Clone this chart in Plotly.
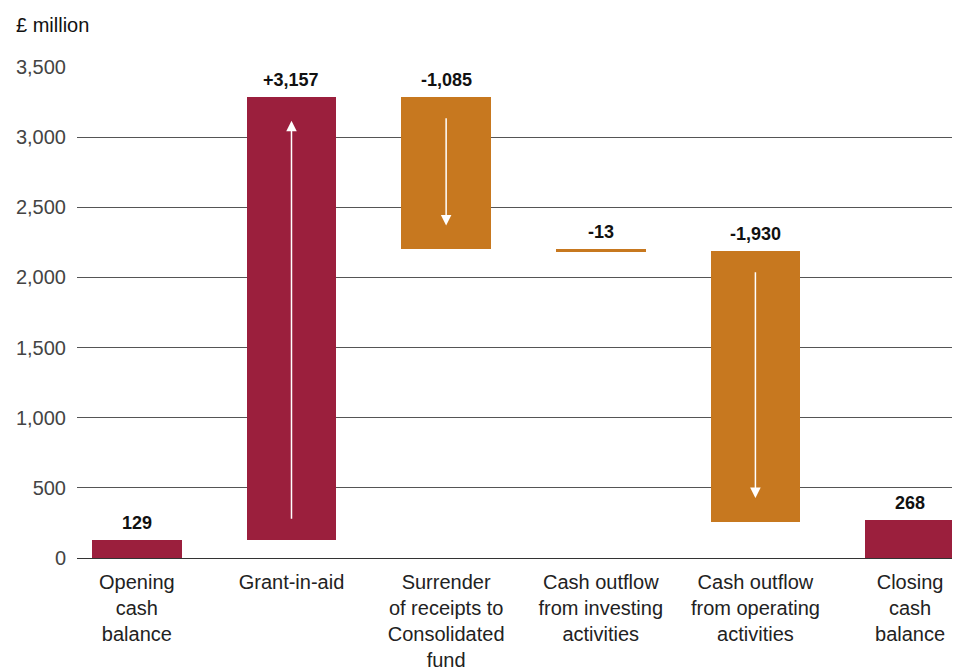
import plotly.graph_objects as go

categories = ["Opening<br>cash<br>balance", "Grant-in-aid", "Surrender<br>of receipts to<br>Consolidated<br>fund",
              "Cash outflow<br>from investing<br>activities", "Cash outflow<br>from operating<br>activities",
              "Closing<br>cash<br>balance"]
changes = [129, 3157, -1085, -13, -1930, 268]
kinds = ["total", "up", "down", "down", "down", "total"]
labels = ["129", "+3,157", "-1,085", "-13", "-1,930", "268"]
ytick_vals = [0, 500, 1000, 1500, 2000, 2500, 3000, 3500]
ytick_text = ["0", "500", "1,000", "1,500", "2,000", "2,500", "3,000", "3,500"]

MAROON = "#9B1F3D"
ORANGE = "#C7781F"

bases, lengths, colors = [], [], []
running = 0
for k, c in zip(kinds, changes):
    if k == "total":
        bases.append(0)
        lengths.append(c)
        running = c
        colors.append(MAROON)
    elif k == "up":
        bases.append(running)
        lengths.append(c)
        running += c
        colors.append(MAROON)
    else:
        bases.append(running + c)
        lengths.append(-c)
        running += c
        colors.append(ORANGE)

x = list(range(len(categories)))
fig = go.Figure()
fig.add_trace(go.Bar(x=x, y=lengths, base=bases, marker=dict(color=colors, line=dict(width=0)),
                     width=0.58, hoverinfo="skip"))

font = "Liberation Sans, Arial, sans-serif"
annotations = []
for i, (b, l, t) in enumerate(zip(bases, lengths, labels)):
    annotations.append(dict(x=i, y=b + l, text="<b>" + t + "</b>", showarrow=False, yanchor="bottom",
                            yshift=5, font=dict(size=18, color="#111", family=font)))

# arrows inside change bars
tail_off, head_off = 140, 170
running = 0
for i, (k, c) in enumerate(zip(kinds, changes)):
    if k == "total":
        running = c
        continue
    start, end = running, running + c
    running = end
    if abs(c) < 500:
        continue
    s = 1 if c > 0 else -1
    annotations.append(dict(x=i, y=end - s * head_off, ax=i, ay=start + s * tail_off,
                            xref="x", yref="y", axref="x", ayref="y", text="", showarrow=True,
                            arrowhead=2, arrowsize=1.4, arrowwidth=1.5, arrowcolor="white"))

annotations.append(dict(x=-63 / 885, y=1 + 55 / 491, xref="paper", yref="paper", xanchor="left",
                        yanchor="top", text="£ million", showarrow=False,
                        font=dict(size=20, color="#111", family=font)))

fig.update_layout(
    width=960, height=672,
    margin=dict(l=67, r=8, t=59, b=122),
    plot_bgcolor="white", paper_bgcolor="white",
    showlegend=False,
    bargap=0,
    font=dict(family=font, color="#333"),
    annotations=annotations,
    xaxis=dict(range=[-0.387, 5.323], tickvals=x, ticktext=categories, showgrid=False,
               zeroline=False, showline=False, ticks="", tickfont=dict(size=20, color="#222"),
               tickangle=0, ticklabelstandoff=10),
    yaxis=dict(range=[0, 3500], tickvals=ytick_vals, ticktext=ytick_text, showgrid=True,
               gridcolor="#555", gridwidth=1, zeroline=True, zerolinecolor="#333", zerolinewidth=1,
               showline=False, ticks="", tickfont=dict(size=20, color="#444"), ticklabelstandoff=10),
)
fig.write_html("out.html")
